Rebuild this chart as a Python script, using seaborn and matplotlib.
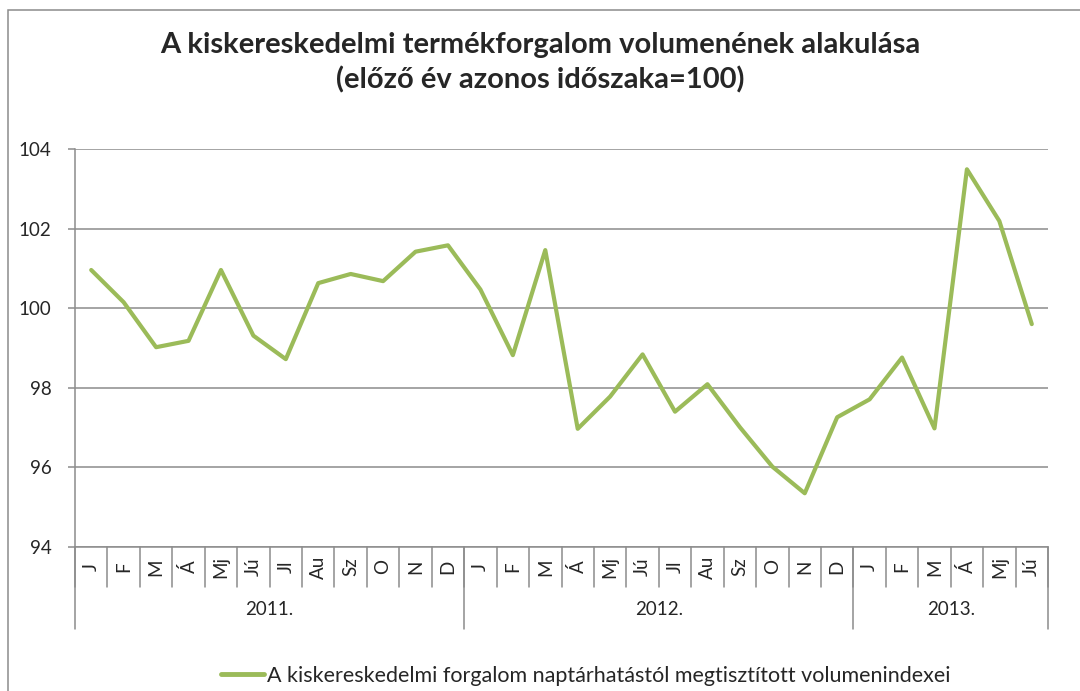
import numpy as np
import pandas as pd
import matplotlib
matplotlib.use("Agg")
import matplotlib.pyplot as plt
import matplotlib.transforms as mtransforms
from matplotlib.patches import Rectangle
import seaborn as sns

# Adatok (leolvasva az eredeti diagramról)
months = ["J", "F", "M", "Á", "Mj", "Jú", "Jl", "Au", "Sz", "O", "N", "D",
          "J", "F", "M", "Á", "Mj", "Jú", "Jl", "Au", "Sz", "O", "N", "D",
          "J", "F", "M", "Á", "Mj", "Jú"]
years = ["2011.", "2012.", "2013."]
year_lengths = [12, 12, 6]
values = [100.96, 100.15, 99.02, 99.18, 100.96, 99.31, 98.72, 100.63, 100.86, 100.68, 101.42, 101.58,
          100.47, 98.82, 101.46, 96.97, 97.78, 98.84, 97.40, 98.09, 97.01, 96.02, 95.35, 97.26,
          97.71, 98.76, 96.98, 103.49, 102.19, 99.60]
series_name = "A kiskereskedelmi forgalom naptárhatástól megtisztított volumenindexei"
yticks = [94, 96, 98, 100, 102, 104]

sns.set_theme(style="white")
plt.rcParams['font.family'] = ['Lato', 'DejaVu Sans']

df = pd.DataFrame({"idx": np.arange(len(values)), "value": values, "sorozat": series_name})

fig = plt.figure(figsize=(10.8, 6.91), dpi=100)
ax = fig.add_axes([75 / 1080, 1 - 547 / 691, (1048 - 75) / 1080, (547 - 149) / 691])

grid_color = "#8c8c8c"
sns.lineplot(data=df, x="idx", y="value", hue="sorozat", palette=["#9BBB59"],
             linewidth=3.0, ax=ax, legend=True)

ax.set_xlim(-0.5, len(values) - 0.5)
ax.set_ylim(94, 104)
ax.set_yticks(yticks)
ax.set_yticklabels([str(t) for t in yticks], fontsize=13.5)
ax.yaxis.grid(True, color=grid_color, linewidth=1.1)
ax.set_axisbelow(True)
ax.set_xticks([])
ax.set_xlabel("")
ax.set_ylabel("")
for s in ["top", "right"]:
    ax.spines[s].set_visible(False)
for s in ["left", "bottom"]:
    ax.spines[s].set_color(grid_color)
    ax.spines[s].set_linewidth(1.1)
ax.tick_params(axis="y", which="both", left=True, length=5, width=1.1, color=grid_color, pad=12)

# kategória tengely: hónapok és évek
trans = mtransforms.blended_transform_factory(ax.transData, ax.transAxes)
month_depth = (587 - 547) / (547 - 149)
year_depth = (629 - 547) / (547 - 149)
for i, m in enumerate(months):
    ax.text(i, -month_depth / 2, m, transform=trans, rotation=90, ha="center", va="center",
            fontsize=13.5)
    ax.plot([i - 0.5, i - 0.5], [0, -month_depth], transform=trans, color=grid_color,
            linewidth=1.1, clip_on=False)
ax.plot([len(months) - 0.5] * 2, [0, -month_depth], transform=trans, color=grid_color,
        linewidth=1.1, clip_on=False)
start = 0
for y, n in zip(years, year_lengths):
    ax.plot([start - 0.5, start - 0.5], [0, -year_depth], transform=trans, color=grid_color,
            linewidth=1.1, clip_on=False)
    ax.text(start + (n - 1) / 2, -(month_depth + year_depth) / 2 - 0.005, y, transform=trans,
            ha="center", va="center", fontsize=13.5)
    start += n
ax.plot([start - 0.5, start - 0.5], [0, -year_depth], transform=trans, color=grid_color,
        linewidth=1.1, clip_on=False)

# cím
fig.text(0.5, 1 - 45 / 691, "A kiskereskedelmi termékforgalom volumenének alakulása",
         ha="center", va="center", fontsize=21, fontweight="bold")
fig.text(0.5, 1 - 80 / 691, "(előző év azonos időszaka=100)",
         ha="center", va="center", fontsize=21, fontweight="bold")

# jelmagyarázat
leg = ax.legend(loc="center", bbox_to_anchor=(586 / 1080, 1 - 676 / 691),
                bbox_transform=fig.transFigure, frameon=False, fontsize=15.5,
                handlelength=2.0, handletextpad=0.15)
for line in leg.get_lines():
    line.set_linewidth(3.5)

# diagramterület kerete
fig.patches.append(Rectangle((8 / 1080, -0.1), 1.2, 1 - 10 / 691 + 0.1, transform=fig.transFigure,
                             fill=False, edgecolor="#8c8c8c", linewidth=1.1))

fig.savefig("out.png", dpi=100)
